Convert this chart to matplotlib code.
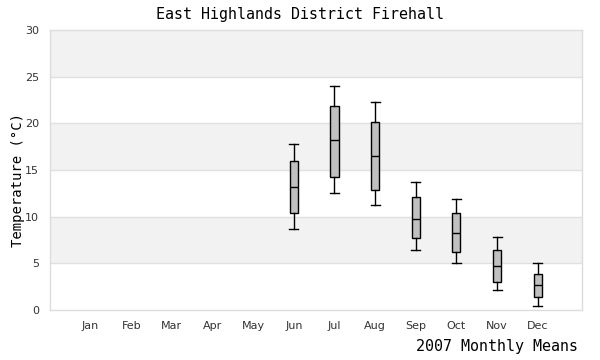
import matplotlib
matplotlib.use("Agg")
import matplotlib.pyplot as plt

months = ["Jan", "Feb", "Mar", "Apr", "May", "Jun", "Jul", "Aug", "Sep", "Oct", "Nov", "Dec"]
# box stats for months with data (Jun..Dec)
box_pos = [6, 7, 8, 9, 10, 11, 12]
whis_lo = [8.7, 12.5, 11.3, 6.4, 5.0, 2.1, 0.4]
q1 = [10.4, 14.3, 12.9, 7.7, 6.2, 3.0, 1.4]
med = [13.2, 18.2, 16.5, 9.8, 8.25, 4.7, 2.65]
q3 = [16.0, 21.9, 20.1, 12.1, 10.4, 6.4, 3.9]
whis_hi = [17.8, 24.0, 22.25, 13.7, 11.9, 7.8, 5.0]

fig = plt.figure(figsize=(6, 3.6), dpi=100)
ax = fig.add_axes([50/600, 50/360, 532/600, 280/360])

# alternating bands
for lo in range(0, 30, 5):
    if (lo // 5) % 2 == 1:
        ax.axhspan(lo, lo + 5, color="#f2f2f2", zorder=0, lw=0)
for y in range(5, 30, 5):
    ax.axhline(y, color="#e0e0e0", lw=1, zorder=1)

stats = []
for i in range(len(box_pos)):
    stats.append({"whislo": whis_lo[i], "q1": q1[i], "med": med[i],
                  "q3": q3[i], "whishi": whis_hi[i], "fliers": []})

ax.bxp(stats, positions=box_pos, widths=0.2, patch_artist=True,
       showfliers=False, manage_ticks=False,
       boxprops=dict(facecolor="#c0c0c0", edgecolor="black", lw=1),
       medianprops=dict(color="black", lw=1),
       whiskerprops=dict(color="black", lw=1),
       capprops=dict(color="black", lw=1),
       capwidths=0.22)

ax.set_xlim(0, 13.09)
ax.set_ylim(0, 30)
ax.set_xticks(range(1, 13))
ax.set_xticklabels(months)
ax.set_yticks(range(0, 31, 5))
ax.tick_params(length=0, labelsize=8, colors="#333333", pad=8)
for s in ax.spines.values():
    s.set_color("#dcdcdc")
    s.set_linewidth(1)

fig.text(0.5, 1 - 14/360, "East Highlands District Firehall", ha="center", va="center",
         family="DejaVu Sans Mono", fontsize=10.8)
fig.text(18/600, 0.5, "Temperature (°C)", rotation=90, ha="center", va="center",
         family="DejaVu Sans Mono", fontsize=10)
fig.text(578/600, 1 - 347/360, "2007 Monthly Means", ha="right", va="center",
         family="DejaVu Sans Mono", fontsize=10.8)

fig.savefig("out.png", dpi=100)
